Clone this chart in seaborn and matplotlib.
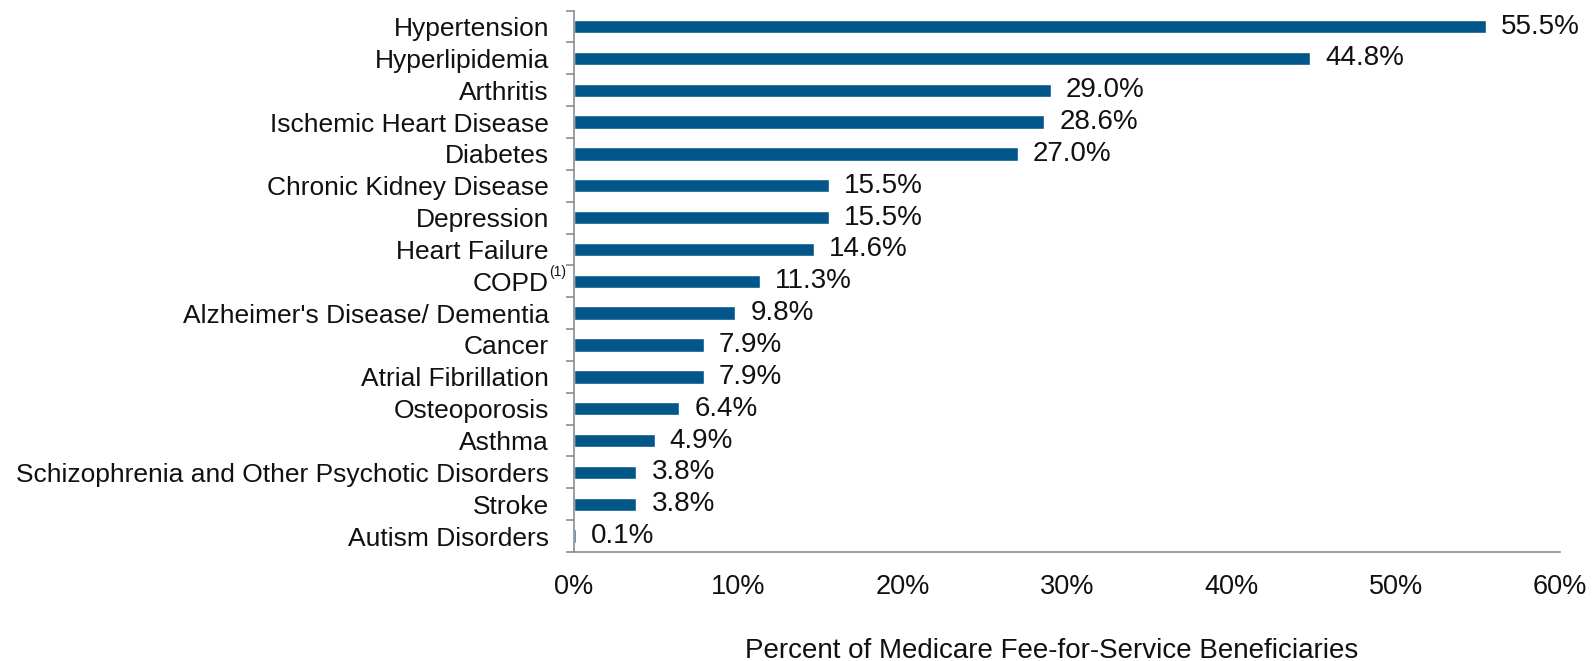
import matplotlib
matplotlib.use("Agg")
import matplotlib.pyplot as plt
import seaborn as sns
import pandas as pd
import numpy as np

conditions = ["Hypertension", "Hyperlipidemia", "Arthritis", "Ischemic Heart Disease",
              "Diabetes", "Chronic Kidney Disease", "Depression", "Heart Failure", "COPD",
              "Alzheimer's Disease/ Dementia", "Cancer", "Atrial Fibrillation", "Osteoporosis",
              "Asthma", "Schizophrenia and Other Psychotic Disorders", "Stroke", "Autism Disorders"]
percent = [55.5, 44.8, 29.0, 28.6, 27.0, 15.5, 15.5, 14.6, 11.3, 9.8, 7.9, 7.9, 6.4, 4.9, 3.8, 3.8, 0.1]
x_ticks = [0, 10, 20, 30, 40, 50, 60]
x_label = "Percent of Medicare Fee-for-Service Beneficiaries"

sns.set_theme(style="white")
plt.rcParams['font.family'] = ['Liberation Sans', 'DejaVu Sans']
text_color = "#111111"
bar_color = "#02568A"
spine_color = "#8c8c8c"

df = pd.DataFrame({"condition": conditions, "percent": percent})

fig = plt.figure(figsize=(15.93, 6.61), dpi=100)
ax = fig.add_axes([574/1593, 1 - 552/661, (1560 - 574)/1593, (552 - 10.6)/661])

sns.barplot(data=df, x="percent", y="condition", orient="h", color=bar_color,
            width=0.42, saturation=1, ax=ax, order=conditions)

ax.set_xlim(0, 60)
ax.set_ylim(len(conditions) - 0.5, -0.5)
ax.set_xticks(x_ticks)
ax.set_xticklabels([f"{t}%" for t in x_ticks], fontsize=19.5, color=text_color)
ax.tick_params(axis="x", length=7.5, width=1.2, color=spine_color, pad=8.5, direction="out")

ax.set_yticks(range(len(conditions)))
ax.set_yticklabels(conditions, fontsize=19, color=text_color)
ax.tick_params(axis="y", which="major", length=0, pad=18)
ax.set_yticks(np.arange(-0.5, len(conditions), 1.0), minor=True)
ax.tick_params(axis="y", which="minor", length=6, width=1.2, color=spine_color, left=True, direction="out")

ax.set_xlabel("")
ax.set_ylabel("")
for s in ["top", "right"]:
    ax.spines[s].set_visible(False)
for s in ["left", "bottom"]:
    ax.spines[s].set_color(spine_color)
    ax.spines[s].set_linewidth(1.2)

for i, v in enumerate(percent):
    ax.annotate(f"{v:.1f}%", xy=(v, i), xytext=(11, 0), textcoords="offset points",
                va="center", ha="left", fontsize=20, color=text_color)

# COPD footnote marker
copd_idx = conditions.index("COPD")
ax.text(-0.0255, copd_idx - 0.28, "(1)", transform=ax.get_yaxis_transform(),
        fontsize=10, color=text_color, ha="left", va="center")

fig.text(745/1593, 1 - 658/661, x_label, fontsize=20, color=text_color,
         ha="left", va="baseline")

fig.savefig("out.png", dpi=100, facecolor="white")
